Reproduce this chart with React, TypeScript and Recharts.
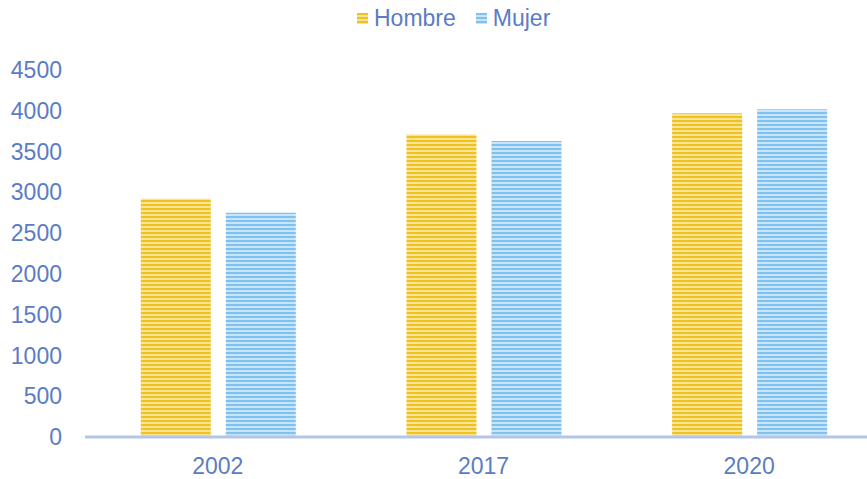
import React from "react";
import { BarChart, Bar, XAxis, YAxis } from "recharts";

const years = ["2002", "2017", "2020"];
const hombre = [2920, 3710, 3970];
const mujer = [2750, 3630, 4020];
const yTicks = [0, 500, 1000, 1500, 2000, 2500, 3000, 3500, 4000, 4500];

const textColor = "#5b7cc4";
const font = "'Liberation Sans', Arial, sans-serif";

const data = years.map((year, i) => ({
	year,
	hombre: hombre[i],
	mujer: mujer[i],
}));

function Stripes({ id, dark, light }: { id: string; dark: string; light: string }) {
	return (
		<pattern id={id} width={4} height={4} patternUnits="userSpaceOnUse">
			<rect x={0} y={0} width={4} height={4} fill={light} />
			<rect x={0} y={0} width={4} height={2} fill={dark} />
		</pattern>
	);
}

function LegendItem({ label, dark, light }: { label: string; dark: string; light: string }) {
	return (
		<div style={{ display: "flex", alignItems: "center", marginRight: 20 }}>
			<svg width={11} height={11} style={{ marginRight: 6 }}>
				<defs>
					<Stripes id={"lg-" + label} dark={dark} light={light} />
				</defs>
				<rect width={11} height={11} fill={`url(#lg-${label})`} />
			</svg>
			<span>{label}</span>
		</div>
	);
}

export default function App() {
	return (
		<div
			style={{
				position: "absolute",
				left: 0,
				top: 0,
				width: 867,
				height: 479,
				overflow: "hidden",
				background: "#fff",
				fontFamily: font,
			}}>
			<div
				style={{
					position: "absolute",
					left: 357,
					top: 4,
					display: "flex",
					fontSize: 23,
					color: textColor,
					lineHeight: "28px",
				}}>
				<LegendItem label="Hombre" dark="#f0c21e" light="#f9e397" />
				<LegendItem label="Mujer" dark="#7fc1f0" light="#c9e5f9" />
			</div>
			<BarChart
				width={882}
				height={479}
				data={data}
				margin={{ top: 70, right: 0, bottom: 0, left: 0 }}
				barCategoryGap="21%"
				barGap={15}>
				<defs>
					<Stripes id="hStripe" dark="#f0c21e" light="#f9e397" />
					<Stripes id="mStripe" dark="#7fc1f0" light="#c9e5f9" />
				</defs>
				<XAxis
					dataKey="year"
					height={42}
					tickLine={false}
					tickSize={0}
					tickMargin={21}
					axisLine={{ stroke: "#b4c6e7", strokeWidth: 3 }}
					tick={{ fill: textColor, fontSize: 23, fontFamily: font }}
				/>
				<YAxis
					width={85}
					domain={[0, 4500]}
					ticks={yTicks}
					interval={0}
					axisLine={false}
					tickLine={false}
					tickSize={0}
					tickMargin={23}
					tick={{ fill: textColor, fontSize: 23, fontFamily: font }}
				/>
				<Bar dataKey="hombre" fill="url(#hStripe)" isAnimationActive={false} />
				<Bar dataKey="mujer" fill="url(#mStripe)" isAnimationActive={false} />
			</BarChart>
		</div>
	);
}
